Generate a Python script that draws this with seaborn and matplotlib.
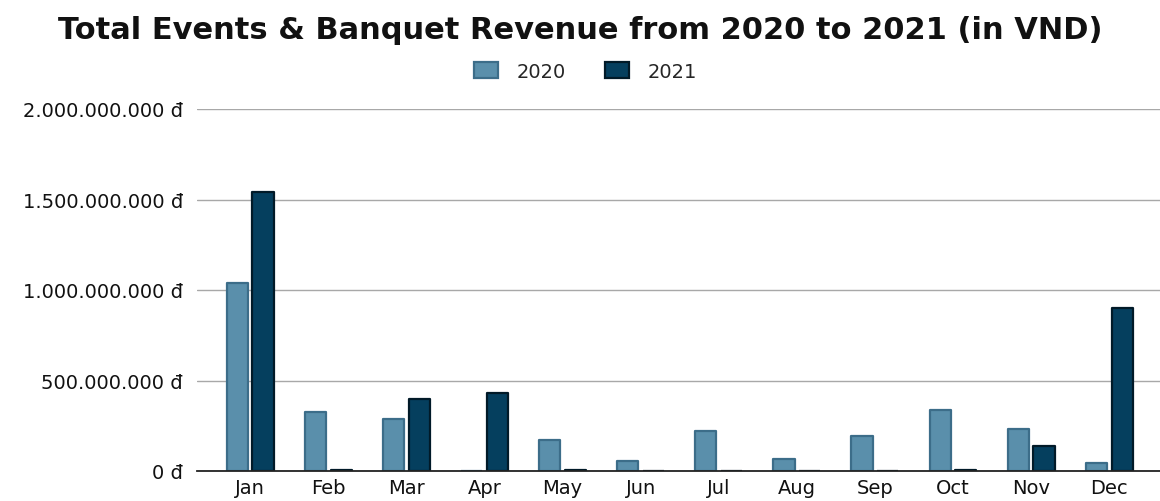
import numpy as np
import pandas as pd
import matplotlib
matplotlib.use("Agg")
import matplotlib.pyplot as plt
import seaborn as sns
from matplotlib.ticker import FuncFormatter

months = ["Jan", "Feb", "Mar", "Apr", "May", "Jun",
          "Jul", "Aug", "Sep", "Oct", "Nov", "Dec"]
revenue_2020 = [1040000000, 326000000, 287000000, 0, 171000000, 55000000,
                221000000, 66000000, 193000000, 337000000, 232000000, 44000000]
revenue_2021 = [1541000000, 5000000, 398000000, 431000000, 4000000, 0,
                0, 0, 0, 5000000, 138000000, 900000000]
years = ["2020", "2021"]
y_ticks = [0, 500000000, 1000000000, 1500000000, 2000000000]

fill_colors = {"2020": "#5a8fab", "2021": "#053f5e"}
edge_colors = {"2020": "#3c6d89", "2021": "#011a28"}

df = pd.DataFrame({
    "Month": months * 2,
    "Revenue": revenue_2020 + revenue_2021,
    "Year": [years[0]] * 12 + [years[1]] * 12,
})

sns.set_theme(style="white")
plt.rcParams["font.family"] = ["DejaVu Sans"]

fig = plt.figure(figsize=(11.6, 5.02), dpi=100)
ax = fig.add_axes([197 / 1160, 30 / 502, 963 / 1160, 362 / 502])

sns.barplot(data=df, x="Month", y="Revenue", hue="Year", order=months,
            hue_order=years, palette=fill_colors, saturation=1,
            width=0.66, gap=0.18, ax=ax, legend=False, zorder=3)

# outline each bar with its series edge colour and soften the corners
for container, yr in zip(ax.containers, years):
    for bar in container:
        bar.set_edgecolor(edge_colors[yr])
        bar.set_linewidth(1.6)
        bar.set_joinstyle("round")

ax.set_ylim(0, 2000000000)
ax.set_xlim(-0.68, 11.65)
ax.set_yticks(y_ticks)
ax.yaxis.set_major_formatter(
    FuncFormatter(lambda v, _: f"{v:,.0f}".replace(",", ".") + " đ"))
ax.grid(axis="y", color="#a8a8a8", linewidth=1.0, zorder=0)
ax.grid(axis="x", visible=False)
for side in ["top", "right", "left"]:
    ax.spines[side].set_visible(False)
ax.spines["bottom"].set_color("#222222")
ax.spines["bottom"].set_linewidth(1.3)
ax.spines["bottom"].set_zorder(4)
ax.tick_params(axis="y", length=0, pad=10, labelsize=14, labelcolor="#111111")
ax.tick_params(axis="x", length=0, pad=5, labelsize=14, labelcolor="#111111")
ax.set_xlabel("")
ax.set_ylabel("")

fig.suptitle("Total Events & Banquet Revenue from 2020 to 2021 (in VND)",
             x=0.5, y=0.968, fontsize=22, fontweight="bold", color="#111111")

handles = [plt.Rectangle((0, 0), 1, 1, facecolor=fill_colors[y],
                         edgecolor=edge_colors[y], linewidth=1.6,
                         joinstyle="round") for y in years]
fig.legend(handles, years, loc="center", bbox_to_anchor=(0.505, 1 - 72 / 502),
           ncol=2, frameon=False, fontsize=14, handlelength=1.2,
           handleheight=0.9, columnspacing=2.0, handletextpad=1.0)

fig.savefig("out.png", dpi=100)
